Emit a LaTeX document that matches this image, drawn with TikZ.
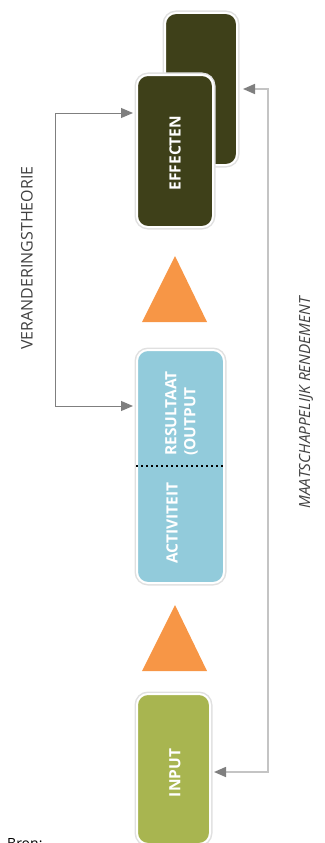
\documentclass[tikz,border=0pt]{standalone}
\usepackage{fontspec}
\setmainfont{Open Sans}
\usetikzlibrary{arrows.meta,calc}
\definecolor{effcol}{HTML}{3E4019}
\definecolor{bluecol}{HTML}{92CBDB}
\definecolor{greencol}{HTML}{A8B550}
\definecolor{orangecol}{HTML}{F79646}
\definecolor{arrgray}{HTML}{7F7F7F}
\definecolor{linegray}{HTML}{C4C4C4}
\definecolor{txtgray}{HTML}{404040}
\tikzset{
  boxbase/.style={rectangle, rounded corners=11pt, inner sep=0pt,
    preaction={draw=black!12, line width=5pt},
    draw=white, line width=2pt},
  effbox/.style={boxbase, fill=effcol, minimum width=76pt, minimum height=152pt},
  bluebox/.style={boxbase, fill=bluecol, minimum width=87pt, minimum height=233pt},
  inbox/.style={boxbase, fill=greencol, minimum width=73pt, minimum height=150pt},
  boxlabel/.style={text=white, font=\fontsize{15.5}{19}\selectfont\bfseries, rotate=90, inner sep=0pt},
  sidelabel/.style={text=txtgray, font=\fontsize{16}{18}\selectfont, rotate=90, inner sep=0pt},
  tri/.style={fill=orangecol, draw=none},
  brk/.style={draw=arrgray, line width=1pt, -{Triangle[length=12pt,width=10pt]}},
  rtl/.style={draw=linegray, line width=1.6pt},
  rtip/.style={-{Triangle[length=12pt,width=10pt,fill=arrgray,color=arrgray]}},
}
\begin{document}
\begin{tikzpicture}[x=1pt,y=-1pt]
\useasboundingbox (0,0) rectangle (324,843);
% boxes
\node[effbox, minimum width=72pt] (backEff) at (201,89) {};
\node[effbox] (frontEff) at (175,151) {};
\node[boxlabel] (effTxt) at (175,153) {EFFECTEN};
\node[bluebox] (blue) at (180.5,466.5) {};
\node[boxlabel, align=left] (resTxt) at (181.5,413.5) {RESULTAAT\\(OUTPUT};
\node[boxlabel] (actTxt) at (172,523) {ACTIVITEIT};
\draw[black, line width=1.8pt, dash pattern=on 1.8pt off 3.2pt] (blue.west |- 0,466) -- (blue.east |- 0,466);
\node[inbox] (input) at (173.5,769) {};
\node[boxlabel] (inTxt) at (175,773) {INPUT};
% triangles
\fill[tri] (175,256) -- (207,322) -- (142,322) -- cycle;
\fill[tri] (175,605) -- (207,671) -- (142,671) -- cycle;
% left bracket
\coordinate (brTop) at (55,113);
\coordinate (brBot) at (55,406);
\draw[brk] (brTop) -- ($(frontEff.west |- brTop)+(-3,0)$);
\draw[brk] (brTop) -- (brBot) -- ($(blue.west |- brBot)+(-3,0)$);
\node[sidelabel] (verTxt) at (27,258) {VERANDERINGSTHEORIE};
% right line
\coordinate (rtTop) at (268,89);
\coordinate (rtBot) at (268,772);
\draw[rtl] ($(backEff.east |- rtTop)+(16,0)$) -- (rtTop) -- (rtBot) -- ($(input.east |- rtBot)+(16,0)$);
\draw[rtl, rtip] ($(backEff.east |- rtTop)+(18,0)$) -- ($(backEff.east |- rtTop)+(5,0)$);
\draw[rtl, rtip] ($(input.east |- rtBot)+(18,0)$) -- ($(input.east |- rtBot)+(3,0)$);
\node[sidelabel, font=\fontsize{15.3}{18}\selectfont\itshape] (maatTxt) at (306,403) {MAATSCHAPPELIJK RENDEMENT};
% cut-off footer
\node[anchor=north west, inner sep=0pt, font=\fontsize{14}{16}\selectfont, text=black] (bron) at (7,838) {Bron:};
\end{tikzpicture}
\end{document}
